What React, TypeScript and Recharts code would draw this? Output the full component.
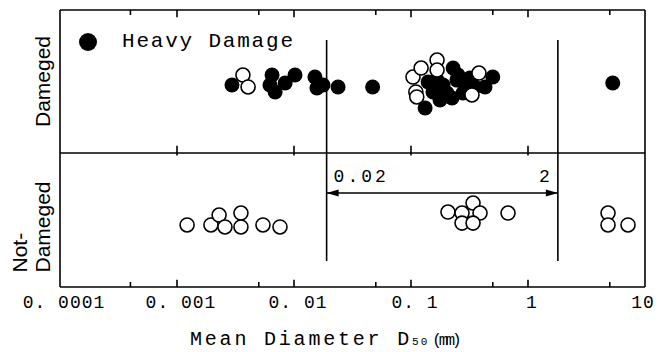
import React from 'react'
import { ScatterChart, Scatter, XAxis, YAxis, ReferenceLine, Legend, Label } from 'recharts'

// [D50 in mm, row position]; rows 1..2 = Dameged, rows 0..1 = Not-Dameged
const heavyDamage: [number, number][] = [
  [0.00295, 1.476], [0.00649, 1.545], [0.00623, 1.476], [0.0069, 1.427],
  [0.0084, 1.49], [0.0102, 1.545], [0.0151, 1.531], [0.0157, 1.455],
  [0.0177, 1.476], [0.0238, 1.462], [0.047, 1.462],
  [0.132, 1.315], [0.14, 1.497], [0.154, 1.427], [0.167, 1.51], [0.177, 1.371],
  [0.188, 1.476], [0.203, 1.42], [0.224, 1.385], [0.229, 1.594], [0.247, 1.51],
  [0.252, 1.545], [0.278, 1.42], [0.29, 1.476], [0.319, 1.524], [0.352, 1.462],
  [0.429, 1.462], [0.5, 1.531],
  [5.3, 1.49],
]

const damagedOther: [number, number][] = [
  [0.00366, 1.545], [0.00405, 1.462],
  [0.104, 1.531], [0.11, 1.427], [0.112, 1.392], [0.122, 1.594],
  [0.167, 1.65], [0.167, 1.58], [0.332, 1.406], [0.381, 1.559],
]

const notDamaged: [number, number][] = [
  [0.00122, 0.497], [0.00195, 0.497], [0.00229, 0.566], [0.00257, 0.483],
  [0.00352, 0.58], [0.00352, 0.483], [0.00543, 0.497], [0.00759, 0.483],
  [0.207, 0.587], [0.273, 0.58], [0.339, 0.65], [0.389, 0.58],
  [0.273, 0.51], [0.339, 0.51], [0.675, 0.58],
  [4.83, 0.58], [4.83, 0.497], [7.16, 0.497],
]

const xTicks = [0.0001, 0.001, 0.01, 0.1, 1, 10]
const xTickLabels = ['0. 0001', '0. 001', '0. 01', '0. 1', '1', '10']
const innerDecades = [0.001, 0.01, 0.1, 1]
const minorTicks = [0.0004, 0.005, 0.05, 0.5, 5]
const rowTicks = [0.5, 1.5]
const rangeEnds = [0.019, 1.8]
const rangeLabels = ['0.02', '2']

const X_MIN = 0.0001
const X_MAX = 10
const Y_TOP = 2
const Y_BOTTOM = 0.063 // lower panel is a bit shorter than the upper one
const TICK = 0.05
const MINOR = 0.035

const MONO = '"Liberation Mono", "DejaVu Sans Mono", monospace'
const SANS = '"Liberation Sans", Arial, sans-serif'

const toPoints = (arr: [number, number][]) => arr.map(([x, y]) => ({ x, y }))

function FilledDot(props: any) {
  return <circle cx={props.cx} cy={props.cy} r={7.5} fill="#000" />
}

function OpenDot(props: any) {
  return <circle cx={props.cx} cy={props.cy} r={7} fill="#fff" stroke="#000" strokeWidth={1.6} />
}

function XTick(props: any) {
  const { x, y, payload } = props
  const i = xTicks.indexOf(payload.value)
  // last label sits against the right edge
  const dx = i === xTicks.length - 1 ? -2 : 4
  return (
    <text x={x + dx} y={y + 21} textAnchor="middle" fontFamily={MONO} fontSize={18} letterSpacing={1} fill="#000">
      {xTickLabels[i]}
    </text>
  )
}

function rotated(text: string, x: number, y: number, anchor: string) {
  return (
    <text
      x={x}
      y={y}
      transform={`rotate(-90, ${x}, ${y})`}
      textAnchor={anchor}
      dominantBaseline="central"
      fontFamily={SANS}
      fontSize={21}
      fill="#000"
    >
      {text}
    </text>
  )
}

function RowTick(props: any) {
  const { y, payload } = props
  if (payload.value > 1) return rotated('Dameged', 43, y, 'middle')
  return (
    <g>
      {rotated('Not-', 20, y + 48, 'start')}
      {rotated('Dameged', 43, y + 48, 'start')}
    </g>
  )
}

function RangeArrow(props: any) {
  const { x1, y1, x2 } = props
  const len = 12
  const half = 3.5
  return (
    <g>
      <line x1={x1} y1={y1} x2={x2} y2={y1} stroke="#000" strokeWidth={1.6} />
      <polygon points={`${x1},${y1} ${x1 + len},${y1 - half} ${x1 + len},${y1 + half}`} fill="#000" />
      <polygon points={`${x2},${y1} ${x2 - len},${y1 - half} ${x2 - len},${y1 + half}`} fill="#000" />
      <text x={x1 + 7} y={y1 - 11} fontFamily={MONO} fontSize={18} letterSpacing={3} fill="#000">
        {rangeLabels[0]}
      </text>
      <text x={x2 - 8} y={y1 - 11} textAnchor="end" fontFamily={MONO} fontSize={18} fill="#000">
        {rangeLabels[1]}
      </text>
    </g>
  )
}

function AxisTitle(props: any) {
  const { x, y } = props.viewBox
  return (
    <text x={x + 130} y={y + 58} fontFamily={MONO} fontSize={20} letterSpacing={2.8} fill="#000">
      Mean Diameter D
      <tspan fontSize={11} letterSpacing={2}>50</tspan>
      <tspan fontSize={16} letterSpacing={-3} dx={3}>(mm)</tspan>
    </text>
  )
}

function LegendContent(props: any) {
  const items = (props.payload || []).filter((p: any) => p.type !== 'none')
  return (
    <div>
      {items.map((item: any) => (
        <div key={item.value} style={{ display: 'flex', alignItems: 'center', height: 18 }}>
          <svg width={18} height={18}>
            <circle cx={9} cy={9} r={9} fill="#000" />
          </svg>
          <span style={{ marginLeft: 25, fontFamily: MONO, fontSize: 21, letterSpacing: 1.8, lineHeight: '18px', color: '#000' }}>
            {item.value}
          </span>
        </div>
      ))}
    </div>
  )
}

const line = { stroke: '#000', strokeWidth: 1.6 }

export default function App() {
  return (
    <div style={{ position: 'absolute', left: 0, top: 0, background: '#fff' }}>
      <ScatterChart width={659} height={352} margin={{ top: 10, right: 14, left: 0, bottom: 0 }}>
        <XAxis
          dataKey="x"
          type="number"
          scale="log"
          domain={[X_MIN, X_MAX]}
          allowDataOverflow
          ticks={xTicks}
          tick={<XTick />}
          tickLine={false}
          axisLine={false}
          tickSize={0}
          tickMargin={0}
          height={65}
          interval={0}
        >
          <Label content={<AxisTitle />} />
        </XAxis>
        <YAxis
          dataKey="y"
          type="number"
          domain={[Y_BOTTOM, Y_TOP]}
          allowDataOverflow
          ticks={rowTicks}
          tick={<RowTick />}
          tickLine={false}
          axisLine={false}
          tickSize={0}
          width={60}
          interval={0}
        />

        {/* frame and panel divider */}
        <ReferenceLine x={X_MIN} {...line} />
        <ReferenceLine x={X_MAX} {...line} />
        <ReferenceLine y={Y_TOP} {...line} />
        <ReferenceLine y={Y_BOTTOM} {...line} />
        <ReferenceLine y={1} {...line} />

        {/* inward ticks */}
        {innerDecades.map((t) => (
          <ReferenceLine key={'b' + t} segment={[{ x: t, y: Y_BOTTOM }, { x: t, y: Y_BOTTOM + TICK }]} {...line} />
        ))}
        {innerDecades.map((t) => (
          <ReferenceLine key={'t' + t} segment={[{ x: t, y: Y_TOP }, { x: t, y: Y_TOP - TICK }]} {...line} />
        ))}
        {innerDecades.map((t) => (
          <ReferenceLine key={'m' + t} segment={[{ x: t, y: 1 - MINOR / 2 }, { x: t, y: 1 + TICK }]} {...line} />
        ))}
        {minorTicks.map((t) => (
          <ReferenceLine key={'bm' + t} segment={[{ x: t, y: Y_BOTTOM }, { x: t, y: Y_BOTTOM + MINOR }]} {...line} />
        ))}
        {minorTicks.map((t) => (
          <ReferenceLine key={'tm' + t} segment={[{ x: t, y: Y_TOP }, { x: t, y: Y_TOP - MINOR }]} {...line} />
        ))}

        {/* 0.02 - 2 mm range */}
        {rangeEnds.map((t) => (
          <ReferenceLine key={'r' + t} segment={[{ x: t, y: 1.79 }, { x: t, y: 0.245 }]} {...line} />
        ))}
        <ReferenceLine
          segment={[{ x: rangeEnds[0], y: 0.72 }, { x: rangeEnds[1], y: 0.72 }]}
          shape={<RangeArrow />}
        />

        <Scatter name="Heavy Damage" data={toPoints(heavyDamage)} shape={<FilledDot />} isAnimationActive={false} />
        <Scatter name="Damaged" data={toPoints(damagedOther)} shape={<OpenDot />} legendType="none" isAnimationActive={false} />
        <Scatter name="Not Damaged" data={toPoints(notDamaged)} shape={<OpenDot />} legendType="none" isAnimationActive={false} />

        <Legend
          layout="vertical"
          align="center"
          verticalAlign="middle"
          content={<LegendContent />}
          wrapperStyle={{ left: 79, top: 33, width: 'auto' }}
        />
      </ScatterChart>
    </div>
  )
}
